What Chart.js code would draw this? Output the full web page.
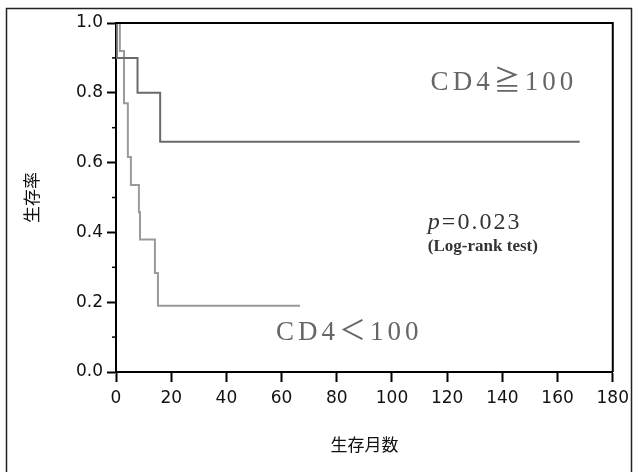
<!DOCTYPE html>
<html lang="ja">
<head>
<meta charset="UTF-8">
<title>生存曲線</title>
<script src="https://cdn.jsdelivr.net/npm/chart.js@4.4.0/dist/chart.umd.min.js"></script>
<style>
	html, body { margin: 0; padding: 0; background: #fff; }
</style>
</head>
<body>
<canvas id="km" width="635" height="472"></canvas>
<script>
// Kaplan-Meier data (months, survival)
const monthsHigh = [0, 0.3, 7.8, 16, 168];
const survHigh   = [1.0, 0.9, 0.8, 0.66, 0.66];

const monthsLow = [0, 1.4, 2.9, 4.3, 5.4, 8.3, 8.7, 14.1, 15.2, 66.7];
const survLow   = [1.0, 0.92, 0.77, 0.616, 0.536, 0.458, 0.38, 0.284, 0.19, 0.19];

const xTicks = [0, 20, 40, 60, 80, 100, 120, 140, 160, 180];
const yTicks = [0, 0.2, 0.4, 0.6, 0.8, 1.0];
const yMinorTicks = [0.1, 0.3, 0.5, 0.7, 0.9];

const toPoints = (xs, ys) => xs.map((x, i) => ({ x: x, y: ys[i] }));

const tickFont = { family: '"DejaVu Sans", sans-serif', size: 17 };
const serif = '"Liberation Serif", "DejaVu Serif", "Noto Sans CJK JP", serif';

// frame, top/right box lines, minor ticks and the text labels inside the plot
const decor = {
	id: 'decor',
	afterDraw(chart) {
		const ctx = chart.ctx;
		const a = chart.chartArea;
		const xs = chart.scales.x, ys = chart.scales.y;
		ctx.save();

		ctx.strokeStyle = '#222';
		ctx.lineWidth = 1.5;
		ctx.strokeRect(6.5, 8.5, 625, 470);

		ctx.strokeStyle = '#000';
		ctx.lineWidth = 2;
		ctx.beginPath();
		ctx.moveTo(a.left, a.top);
		ctx.lineTo(a.right, a.top);
		ctx.lineTo(a.right, a.bottom);
		ctx.stroke();

		ctx.lineWidth = 1.5;
		yMinorTicks.forEach(v => {
			const y = ys.getPixelForValue(v);
			ctx.beginPath();
			ctx.moveTo(a.left - 4, y);
			ctx.lineTo(a.left, y);
			ctx.stroke();
		});

		ctx.textBaseline = 'middle';
		ctx.textAlign = 'left';

		ctx.fillStyle = '#666';
		ctx.font = '27px ' + serif;
		ctx.letterSpacing = '4px';
		ctx.fillText('CD4≧100', xs.getPixelForValue(114), ys.getPixelForValue(0.828));
		ctx.fillText('CD4＜100', xs.getPixelForValue(58), ys.getPixelForValue(0.112));

		ctx.fillStyle = '#333';
		ctx.letterSpacing = '2px';
		ctx.font = 'italic 24px ' + serif;
		const px = xs.getPixelForValue(113);
		const py = ys.getPixelForValue(0.427);
		ctx.fillText('p', px, py);
		const pw = ctx.measureText('p').width;
		ctx.font = '24px ' + serif;
		ctx.fillText('=0.023', px + pw, py);

		ctx.letterSpacing = '0px';
		ctx.font = 'bold 17px ' + serif;
		ctx.fillText('(Log-rank test)', px, ys.getPixelForValue(0.358));

		ctx.restore();
	}
};

new Chart(document.getElementById('km').getContext('2d'), {
	type: 'line',
	data: {
		datasets: [{
			label: 'CD4≧100',
			data: toPoints(monthsHigh, survHigh),
			borderColor: '#6a6a6a',
			borderWidth: 2,
			stepped: 'before',
			pointRadius: 0,
			fill: false
		}, {
			label: 'CD4<100',
			data: toPoints(monthsLow, survLow),
			borderColor: '#9a9a9a',
			borderWidth: 2,
			stepped: 'before',
			pointRadius: 0,
			fill: false
		}]
	},
	options: {
		responsive: false,
		animation: false,
		layout: { padding: { left: 0, top: 23, right: 22, bottom: 0 } },
		plugins: {
			legend: { display: false },
			tooltip: { enabled: false }
		},
		scales: {
			x: {
				type: 'linear',
				min: 0,
				max: 180,
				afterBuildTicks: s => { s.ticks = xTicks.map(v => ({ value: v })); },
				ticks: { font: tickFont, color: '#111', padding: 6, maxRotation: 0 },
				grid: { drawOnChartArea: false, tickLength: 10, tickColor: '#000', tickWidth: 2 },
				border: { color: '#000', width: 2 },
				title: {
					display: true,
					text: '生存月数',
					color: '#111',
					font: { family: '"Noto Sans CJK JP", sans-serif', size: 17 },
					padding: { top: 0, bottom: 17 }
				},
				afterFit: s => { s.height = 100; }
			},
			y: {
				min: 0,
				max: 1,
				afterBuildTicks: s => { s.ticks = yTicks.map(v => ({ value: v })); },
				ticks: { font: tickFont, color: '#111', padding: 4, callback: v => v.toFixed(1) },
				grid: { drawOnChartArea: false, tickLength: 9, tickColor: '#000', tickWidth: 2 },
				border: { color: '#000', width: 2 },
				title: {
					display: true,
					text: '生存率',
					color: '#111',
					font: { family: '"Noto Sans CJK JP", sans-serif', size: 17 },
					padding: { top: 21, bottom: 0 }
				},
				afterFit: s => { s.width = 116; }
			}
		}
	},
	plugins: [decor]
});
</script>
</body>
</html>
